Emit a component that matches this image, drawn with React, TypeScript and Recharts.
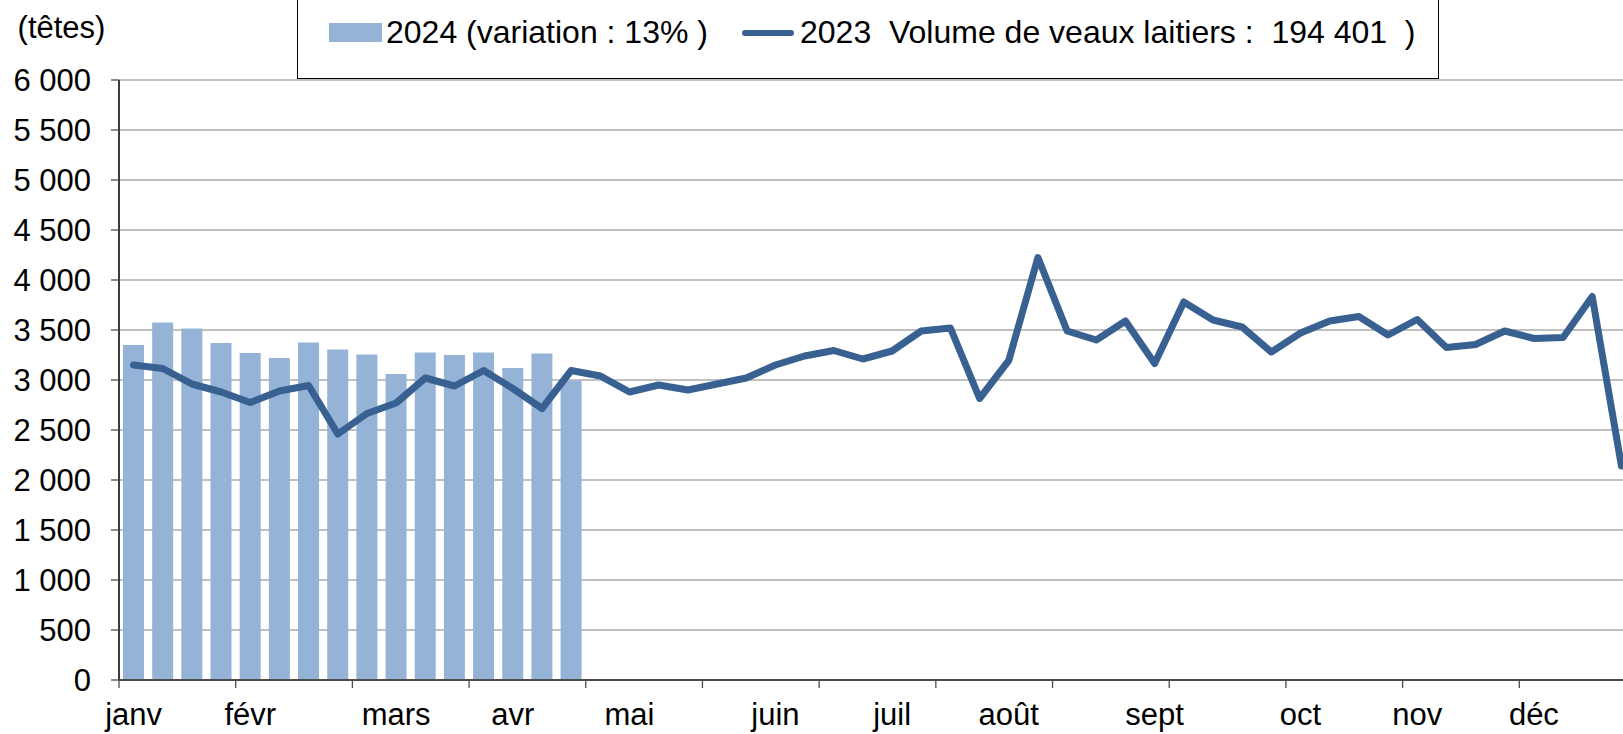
import React from 'react';
import { ComposedChart, Bar, Line, XAxis, YAxis, CartesianGrid, Legend } from 'recharts';

// ---- data ----
const WEEKS: string[] = [
  'S1', 'S2', 'S3', 'S4', 'S5', 'S6', 'S7', 'S8', 'S9', 'S10',
  'S11', 'S12', 'S13', 'S14', 'S15', 'S16', 'S17', 'S18', 'S19', 'S20',
  'S21', 'S22', 'S23', 'S24', 'S25', 'S26', 'S27', 'S28', 'S29', 'S30',
  'S31', 'S32', 'S33', 'S34', 'S35', 'S36', 'S37', 'S38', 'S39', 'S40',
  'S41', 'S42', 'S43', 'S44', 'S45', 'S46', 'S47', 'S48', 'S49', 'S50',
  'S51', 'S52',
];

const MONTH_LABELS: string[] = [
  'janv', '', '', '', 'févr', '', '', '', '', 'mars',
  '', '', '', 'avr', '', '', '', 'mai', '', '',
  '', '', 'juin', '', '', '', 'juil', '', '', '',
  'août', '', '', '', '', 'sept', '', '', '', '',
  'oct', '', '', '', 'nov', '', '', '', 'déc', '',
  '', '',
];

const VALUES_2024: number[] = [
  3350, 3575, 3515, 3370, 3270, 3220, 3375, 3305, 3255, 3060,
  3275, 3250, 3275, 3120, 3265, 2995,
];

const VALUES_2023: number[] = [
  3150, 3115, 2960, 2880, 2775, 2890, 2945, 2460, 2665, 2770,
  3020, 2940, 3095, 2915, 2715, 3095, 3040, 2880, 2950, 2900,
  2960, 3020, 3150, 3240, 3295, 3210, 3290, 3490, 3520, 2815,
  3195, 4225, 3490, 3400, 3590, 3165, 3780, 3600, 3530, 3280,
  3470, 3590, 3635, 3450, 3605, 3325, 3355, 3490, 3415, 3425,
  3835, 2140,
];

const Y_TICKS: number[] = [0, 500, 1000, 1500, 2000, 2500, 3000, 3500, 4000, 4500, 5000, 5500, 6000];

const LEGEND_2024 = '2024 (variation : 13% )';
const LEGEND_2023 = '2023  Volume de veaux laitiers :  194 401  )';
const UNIT_LABEL = '(têtes)';

// ---- styles ----
const FONT = '"Liberation Sans", Arial, sans-serif';
const FS = 31;
const LEGEND_FS = 32;
const BAR_COLOR = '#95B3D7';
const LINE_COLOR = '#386192';
const AXIS_COLOR = '#4d4d4d';
const GRID_COLOR = '#c0c0c0';

const data = WEEKS.map((w, i) => ({
  week: w,
  v2024: i < VALUES_2024.length ? VALUES_2024[i] : null,
  v2023: VALUES_2023[i],
}));

const fmt = (v: number) => {
  if (v < 1000) return String(v);
  const th = Math.floor(v / 1000);
  const rest = String(v % 1000).padStart(3, '0');
  return `${th} ${rest}`;
};

const MonthTick = (props: any) => {
  const { x, y, payload, index, width } = props;
  const half =
    payload && typeof payload.offset === 'number' && payload.offset > 0
      ? payload.offset
      : width / WEEKS.length / 2;
  const label = MONTH_LABELS[index] ?? '';
  return (
    <g>
      {index % 4 === 0 && (
        <line x1={x - half} x2={x - half} y1={y} y2={y + 8} stroke={AXIS_COLOR} strokeWidth={1.3} />
      )}
      {label && (
        <text x={x} y={y + 45} textAnchor="middle" fontSize={FS} fill="#000" fontFamily={FONT}>
          {label}
        </text>
      )}
    </g>
  );
};

const LegendBox = () => (
  <div
    style={{
      position: 'relative',
      width: 1142,
      height: 84,
      boxSizing: 'border-box',
      border: '1px solid #000',
      background: '#fff',
      fontFamily: FONT,
      fontSize: LEGEND_FS,
      lineHeight: `${LEGEND_FS}px`,
      color: '#000',
      whiteSpace: 'pre',
    }}
  >
    <div style={{ position: 'absolute', left: 31, top: 27, width: 53, height: 19, background: BAR_COLOR }} />
    <div style={{ position: 'absolute', left: 88, top: 20 }}>{LEGEND_2024}</div>
    <div
      style={{ position: 'absolute', left: 444, top: 34, width: 52, height: 6, borderRadius: 3, background: LINE_COLOR }}
    />
    <div style={{ position: 'absolute', left: 502, top: 20 }}>{LEGEND_2023}</div>
  </div>
);

export default function App() {
  return (
    <div
      style={{
        position: 'absolute',
        left: 0,
        top: 0,
        width: 1623,
        height: 734,
        overflow: 'hidden',
        background: '#fff',
        fontFamily: FONT,
      }}
    >
      <ComposedChart
        width={1640}
        height={734}
        data={data}
        margin={{ top: 80, right: 4, bottom: 4, left: 0 }}
      >
        <CartesianGrid vertical={false} stroke={GRID_COLOR} strokeWidth={2} />
        <XAxis
          dataKey="week"
          interval={0}
          height={50}
          tickLine={false}
          tickSize={0}
          tickMargin={0}
          axisLine={{ stroke: AXIS_COLOR, strokeWidth: 2 }}
          tick={<MonthTick />}
        />
        <YAxis
          width={119}
          domain={[0, 6000]}
          ticks={Y_TICKS}
          interval={0}
          tickFormatter={fmt}
          tickSize={8}
          tickMargin={20}
          axisLine={{ stroke: '#3a3a3a', strokeWidth: 2 }}
          tickLine={{ stroke: AXIS_COLOR, strokeWidth: 1.3 }}
          tick={{ fontSize: FS, fill: '#000', fontFamily: FONT }}
          label={{
            value: UNIT_LABEL,
            position: 'top',
            offset: 42,
            dx: 2,
            fontSize: FS,
            fill: '#000',
            fontFamily: FONT,
          }}
        />
        <Legend
          layout="horizontal"
          verticalAlign="middle"
          align="center"
          content={() => <LegendBox />}
          wrapperStyle={{ position: 'absolute', left: 297, top: -5, width: 1142, height: 84 }}
        />
        <Bar dataKey="v2024" fill={BAR_COLOR} barSize={21} isAnimationActive={false} />
        <Line
          type="linear"
          dataKey="v2023"
          stroke={LINE_COLOR}
          strokeWidth={7}
          strokeLinejoin="round"
          strokeLinecap="round"
          dot={false}
          activeDot={false}
          isAnimationActive={false}
        />
      </ComposedChart>
    </div>
  );
}
